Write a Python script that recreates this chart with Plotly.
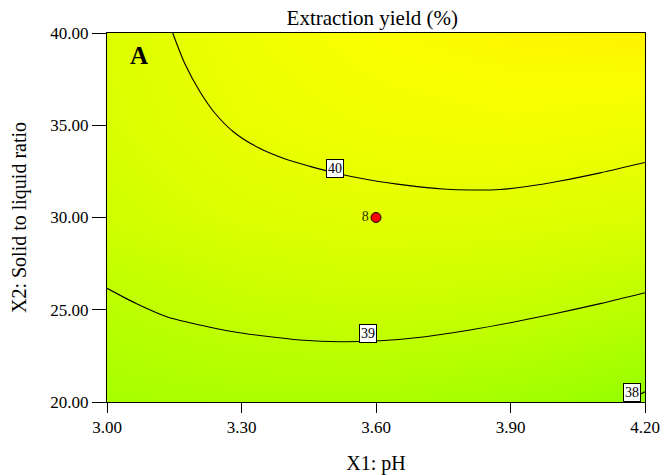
import plotly.graph_objects as go

# ---- data ----
x1_grid = [3.0, 3.3, 3.6, 3.9, 4.2]          # X1: pH
x2_grid = [20, 25, 30, 35, 40]               # X2: solid to liquid ratio
yield_grid = [                               # extraction yield (%) estimates, rows = X2
    [38.40, 38.50, 38.50, 38.30, 37.95],
    [38.85, 39.15, 39.25, 39.15, 38.85],
    [39.40, 39.70, 39.85, 39.80, 39.67],
    [39.60, 40.05, 40.25, 40.35, 40.22],
    [39.70, 40.20, 40.55, 40.75, 40.85],
]

c40_x1 = [3.1465, 3.174, 3.2074, 3.2409, 3.2817, 3.3370, 3.3932, 3.4527, 3.5086, 3.5866, 3.6700, 3.7494, 3.8097, 3.8766, 3.9400, 4.0104, 4.1000, 4.2000]
c40_x2 = [40.000, 38.32, 36.818, 35.650, 34.650, 33.790, 33.209, 32.770, 32.412, 32.033, 31.740, 31.545, 31.490, 31.518, 31.690, 31.978, 32.420, 32.981]
c39_x1 = [3.000, 3.0650, 3.1332, 3.2100, 3.2817, 3.3550, 3.4305, 3.5197, 3.6089, 3.7100, 3.8097, 3.9000, 3.9955, 4.1000, 4.200]
c39_x2 = [26.162, 25.340, 24.623, 24.160, 23.810, 23.560, 23.360, 23.263, 23.322, 23.540, 23.902, 24.300, 24.770, 25.330, 25.924]
c38_x1 = [4.155, 4.200]
c38_x2 = [20.00, 20.55]

contour_levels = ["40", "39", "38"]
label_x1 = [3.509, 3.583, 4.170]
label_x2 = [32.68, 23.69, 20.49]

center_x1 = [3.6]
center_x2 = [30.0]
center_text = ["8"]

x_ticks = [3.0, 3.3, 3.6, 3.9, 4.2]
y_ticks = [20, 25, 30, 35, 40]

SERIF = "Liberation Serif, Times New Roman, serif"

fig = go.Figure()
fig.add_trace(go.Heatmap(
    x=x1_grid, y=x2_grid, z=yield_grid, zsmooth="best",
    zmin=38.0, zmax=41.0, showscale=False, hoverinfo="skip",
    colorscale=[
        [0.0, "rgb(150,255,0)"],
        [1/3, "rgb(192,255,0)"],
        [2/3, "rgb(232,255,0)"],
        [0.8333, "rgb(250,255,0)"],
        [1.0, "rgb(255,238,0)"],
    ],
))

for cx, cy in [(c40_x1, c40_x2), (c39_x1, c39_x2), (c38_x1, c38_x2)]:
    fig.add_trace(go.Scatter(
        x=cx, y=cy, mode="lines", line=dict(color="black", width=1.1, shape="spline", smoothing=0.8),
        showlegend=False, hoverinfo="skip",
    ))

fig.add_trace(go.Scatter(
    x=center_x1, y=center_x2, mode="markers+text", text=center_text,
    textposition="middle left", textfont=dict(family=SERIF, size=14, color="#333300"),
    marker=dict(symbol="circle", size=10, color="red", line=dict(color="black", width=1)),
    showlegend=False, hoverinfo="skip",
))

for lab, lx, ly in zip(contour_levels, label_x1, label_x2):
    fig.add_annotation(
        x=lx, y=ly, text=lab, showarrow=False,
        font=dict(family=SERIF, size=14, color="black"),
        bgcolor="white", bordercolor="black", borderwidth=1, borderpad=1,
    )

fig.add_annotation(
    x=0.06, y=0.94, xref="paper", yref="paper", text="<b>A</b>", showarrow=False,
    font=dict(family=SERIF, size=25, color="black"), xanchor="center", yanchor="middle",
)

fig.update_layout(
    width=672, height=475,
    margin=dict(l=107, r=27, t=33, b=73, autoexpand=False),
    paper_bgcolor="white", plot_bgcolor="white",
    title=dict(text="Extraction yield (%)", x=0.554, xref="container", y=0.962, yref="container",
               xanchor="center", yanchor="middle", font=dict(family=SERIF, size=21, color="black")),
    font=dict(family=SERIF, color="black"),
    showlegend=False,
)
fig.update_xaxes(
    range=[3.0, 4.2], tickvals=x_ticks, tickformat=".2f", ticks="outside", ticklen=10,
    tickcolor="black", showline=True, linecolor="black", linewidth=1, mirror=True,
    showgrid=False, zeroline=False, tickfont=dict(family=SERIF, size=17), automargin=False,
    title=dict(text="X1: pH", font=dict(family=SERIF, size=20), standoff=22),
)
fig.update_yaxes(
    range=[20, 40], tickvals=y_ticks, tickformat=".2f", ticks="outside", ticklen=14,
    tickcolor="black", showline=True, linecolor="black", linewidth=1, mirror=True,
    showgrid=False, zeroline=False, tickfont=dict(family=SERIF, size=17), automargin=False,
    title=dict(text="X2: Solid to liquid ratio", font=dict(family=SERIF, size=20), standoff=18),
)

fig.write_html("out.html")
